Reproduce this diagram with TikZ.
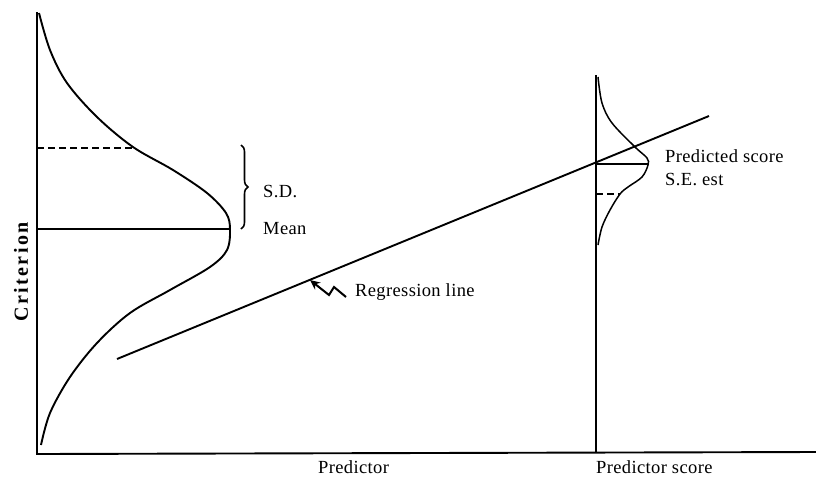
\documentclass[tikz,border=0pt]{standalone}
\usepackage{fontspec}
\setmainfont{Liberation Serif}
\usetikzlibrary{decorations.pathreplacing,arrows.meta}
\begin{document}
\begin{tikzpicture}[x=1pt,y=-1pt,
  ink/.style={line width=1.9pt,black},
  thinink/.style={line width=1.5pt,black},
  dashline/.style={line width=1.5pt,dash pattern=on 7pt off 4pt},
  lbl/.style={font=\fontsize{18.5}{20}\selectfont\addfontfeature{LetterSpace=2},inner sep=0pt,anchor=base west}]
\useasboundingbox (0,0) rectangle (816,477);
% axes
\coordinate (ytop) at (37,12);
\coordinate (orig) at (37,454);
\coordinate (xend) at (816,452);
\coordinate (rtop) at (596,75);
\coordinate (rbot) at (596,453);
\draw[ink] (ytop) -- (orig) -- (xend);
\draw[thinink] (rtop) -- (rbot);
% left distribution
\draw[ink] plot[smooth,tension=0.55] coordinates {(39,13) (50,50) (67,83) (97,117) (133,147) (173,170) (207,193) (226,213) (230,229) (227,250) (210,267) (170,290) (130,313) (97,343) (70,377) (50,413) (41,445)};
\coordinate (mean) at (230,229);
\coordinate (sd) at (133,148);
\draw[thinink] (37,229) -- (mean);
\draw[dashline] (37,148) -- (sd);
% brace
\draw[line width=1.6pt,decorate,decoration={brace,amplitude=7pt}] (241,145) -- (241,229);
\node[lbl] (sdl) at (263,197) {S.D.};
\node[lbl] (meanl) at (263,234) {Mean};
% regression line
\coordinate (ra) at (117,359);
\coordinate (rb) at (709,116);
\draw[ink] (ra) -- (rb);
% right distribution
\draw[thinink] plot[smooth,tension=0.55] coordinates {(598,77) (602,103) (612,123) (635,147) (647,158) (648,165) (642,177) (628,187) (620,194) (610,210) (602,227) (598,245)};
\draw[thinink] (596,164) -- (648,164);
\draw[dashline] (596,194) -- (620,194);
\node[lbl] (ps) at (665,162) {Predicted score};
\node[lbl] (se) at (665,185) {S.E. est};
% regression label with squiggle arrow
\coordinate (tip) at (310,280);
\draw[line width=2pt,-{Stealth[length=10pt,width=9pt]}] (346,297) -- (334,287) -- (329,295) -- (tip);
\node[lbl] (rl) at (355,296) {Regression line};
% axis labels
\node[lbl] (pred) at (318,473) {Predictor};
\node[lbl] (preds) at (596,473) {Predictor score};
\node[lbl,anchor=center,rotate=90,font=\fontsize{20}{22}\selectfont\bfseries\addfontfeature{LetterSpace=12}] (crit) at (21,272) {Criterion};
\end{tikzpicture}
\end{document}
